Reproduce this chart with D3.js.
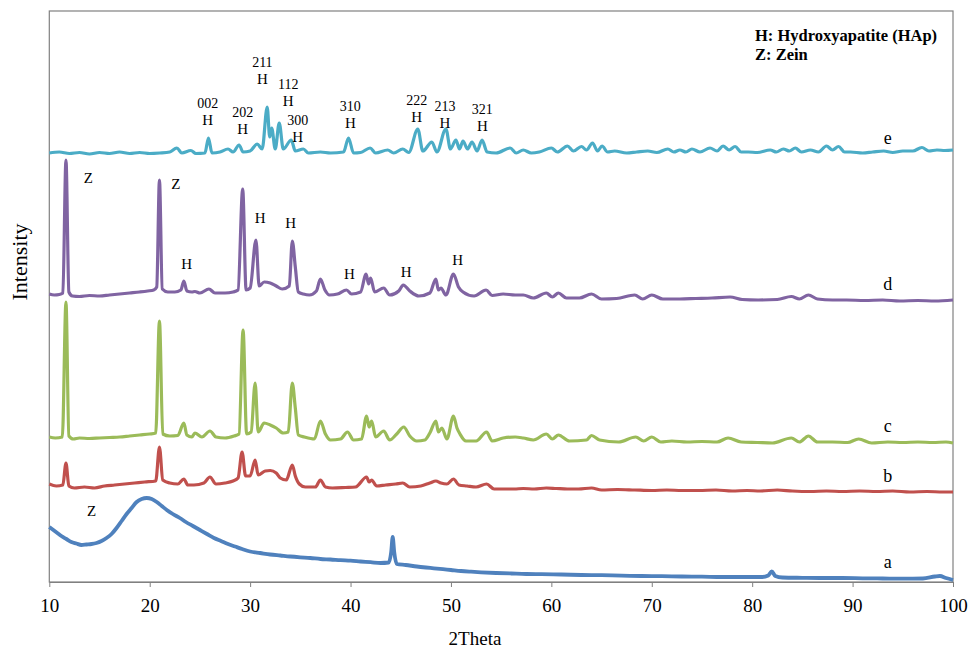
<!DOCTYPE html>
<html>
<head>
<meta charset="utf-8">
<script src="https://cdn.jsdelivr.net/npm/d3@7"></script>
<style>
  body { margin: 0; background: #fff; }
  svg { display: block; font-family: "Liberation Serif", "Times New Roman", serif; }
</style>
</head>
<body>
<div id="chart"></div>
<script>
// XRD patterns: [2theta, intensity (a.u., stacked)]
const patternA = [
  [10.0,55],[10.4,52],[10.8,49],[11.2,46],[11.7,43],[12.2,40],[12.7,38.5],[13.2,37],[13.7,37.5],
  [14.2,38],[14.7,39],[15.2,41],[15.7,44],[16.2,48],[16.7,54],[17.2,61],[17.7,68],[18.2,74],
  [18.7,80],[19.2,83],[19.7,84],[20.2,83],[20.7,80],[21.2,76],[21.7,72],[22.3,68],[23.0,64],
  [23.6,60],[24.3,56],[25.0,52],[25.7,48],[26.4,44],[27.1,41],[27.8,38],[28.5,35.5],[29.2,33],
  [30.0,30.5],[31.0,29],[32.0,27.5],[33.0,26.5],[34.0,25.5],[35.0,24.7],[36.0,24],[37.0,23],
  [38.0,22.5],[39.0,21.8],[40.0,21.3],[41.0,20.5],[42.0,19.8],[43.0,19],[43.8,19.5],[44.05,30],
  [44.2,45],[44.35,30],[44.6,18],[45.5,17],[46.6,15.5],[47.5,14.5],[48.3,13.7],[49.2,12.8],
  [50.0,12],[51.0,11],[52.0,10.3],[53.0,9.7],[54.5,9],[56.0,8.5],[57.5,8],[59.0,7.8],[61.0,7.5],
  [63.0,7],[65.0,6.8],[67.0,6.3],[69.0,6],[71.0,5.8],[73.0,5.5],[75.0,5.3],[77.0,5],[79.0,5],
  [81.0,5],[81.6,6.5],[81.95,10.5],[82.3,6],[83.0,4.5],[85.0,4.2],[87.0,4],[89.0,4],[91.0,3.7],
  [93.0,3.5],[95.0,3.3],[97.0,3.5],[98.2,5.5],[98.7,6],[99.3,4],[100,2]
];

const patternB = [
  [10.0,98],[10.7,96],[11.35,97],[11.66,119],[11.95,96],[12.5,94],[13.5,95],[14.5,94],[15.5,96],
  [16.5,97],[17.5,98],[18.5,99],[19.5,100],[20.6,101],[20.97,135],[21.3,102],[22.0,99],[22.8,98],
  [23.4,103],[23.8,97],[24.4,97],[25.4,99],[26.0,105],[26.6,98],[27.5,99],[28.3,101],[28.8,104],
  [29.2,130],[29.55,106],[30.0,106],[30.5,122],[30.8,107],[31.5,111],[32.0,111.5],[32.6,109],
  [33.0,104],[33.6,102],[34.2,117],[34.5,106],[34.9,98],[35.5,95],[36.5,95],[37.0,102],[37.5,95],
  [38.2,94],[39.5,94.5],[40.5,95],[41.6,105],[41.85,100],[42.1,102],[42.6,96],[43.5,97],[44.5,98],
  [45.2,99],[45.9,95],[47.0,96],[47.9,99],[48.5,101],[49.0,99],[49.6,98],[50.25,103],[50.8,97],
  [51.6,96],[52.5,95],[53.55,98],[54.3,93],[55.2,93],[56.3,93],[57.2,93.5],[58.3,93],[59.5,94],
  [60.5,93.5],[61.6,93],[62.7,93],[64.0,94],[65.0,92],[66.6,92.5],[68.3,92],[70.0,91.5],[71.5,92],
  [73.0,91.5],[74.7,91.5],[76.4,92],[78.0,91],[79.5,91.5],[80.8,91],[82.5,92],[84.0,91],[85.8,90.5],
  [87.4,91],[89.0,90.5],[90.7,91],[92.4,90.5],[94.0,91],[95.7,90],[97.4,90.5],[99.0,90],[100,90]
];

const patternC = [
  [10.0,145],[10.6,144],[11.3,145],[11.66,280],[11.95,146],[12.4,143],[13.0,144],[14.0,143.5],
  [15.0,144],[16.0,144.5],[17.0,145],[18.0,146],[19.0,147],[20.0,148],[20.6,149],[20.97,261],
  [21.3,148],[22.0,146],[22.8,146.5],[23.4,159],[23.7,147],[24.2,145],[24.5,149],[25.2,145],
  [26.0,151],[26.6,145],[27.5,144],[28.4,146],[28.9,148],[29.3,252],[29.65,148],[30.1,150],
  [30.5,199],[30.8,150],[31.4,159],[32.0,157],[32.6,154],[33.3,149],[33.8,150],[34.2,199],
  [34.5,174],[34.8,147],[35.4,145],[36.4,143],[37.0,161],[37.5,148],[38.0,142],[39.0,143],
  [39.7,150],[40.3,142],[41.1,143],[41.6,166],[41.85,155],[42.1,161],[42.5,145],[43.3,151],
  [43.9,142],[44.6,148],[45.3,155],[45.9,146],[46.6,141],[47.4,142],[47.9,149],[48.5,161],
  [48.75,150],[49.1,154],[49.6,143],[50.25,166],[50.6,154],[50.9,148],[51.5,141],[52.5,141],
  [53.55,150],[54.1,141],[55.2,144],[56.4,145],[57.2,144],[58.2,142],[59.5,148],[60.1,143],
  [60.7,147],[61.8,141],[63.5,142],[64.0,146.5],[64.8,142],[66.7,140],[68.4,145],[69.2,141],
  [70.0,145],[70.9,140],[72.0,141],[73.5,140],[75.0,140.5],[76.5,140],[77.6,144],[78.9,140],
  [80.5,139.5],[82.0,139],[83.9,144],[84.7,140],[85.6,146],[86.5,140],[88.0,140],[89.5,139.5],
  [90.6,143],[91.9,139],[93.5,140],[95.0,139.5],[96.5,140],[98.0,139.5],[99.3,140],[100,139]
];

const patternD = [
  [10.0,288],[10.5,287],[11.0,287.5],[11.35,289],[11.66,422],[11.95,290],[12.3,286],[13.0,285.5],
  [14.0,286.5],[15.0,286],[16.0,287],[17.0,288],[18.0,289],[19.0,290],[19.8,291],[20.4,292],
  [20.7,295],[20.97,402],[21.25,293],[21.8,290],[22.5,290],[23.1,292],[23.4,301],[23.7,291],
  [24.2,290],[24.5,290.5],[25.0,289],[25.9,293],[26.5,289],[27.5,289],[28.3,290],[28.8,292],
  [29.26,393],[29.6,292],[30.0,294],[30.58,342],[30.9,296],[31.4,300],[32.0,299],[32.6,296],
  [33.2,293],[33.9,296],[34.2,341],[34.5,315],[34.8,290],[35.3,288],[35.9,287],[36.6,291],
  [37.0,303],[37.45,292],[37.9,287],[38.7,288],[39.6,292],[40.1,288],[41.0,290],[41.55,308],
  [41.8,298],[42.0,304],[42.4,290],[43.3,294],[43.9,287],[44.8,291],[45.25,297],[45.9,291],
  [46.8,286],[47.9,289],[48.5,303],[48.75,292],[49.0,294],[49.5,287],[50.25,308],[50.75,295],
  [51.2,290],[52.3,286],[53.5,292],[54.1,286.5],[55.2,288],[56.4,287],[57.2,287],[58.2,284],
  [59.5,289],[60.1,285],[60.7,289],[61.5,284],[62.8,284],[64.0,288],[65.0,283],[66.5,283.5],
  [68.3,287],[69.1,283],[70.0,287],[71.1,283],[72.8,283],[74.4,283.5],[76.0,284],[77.8,285],
  [79.0,282.5],[80.6,282],[82.5,282.5],[83.9,285.5],[84.7,283],[85.6,287],[86.5,283],[88.0,282],
  [89.4,282],[91.2,281.5],[93.0,282],[94.7,281],[96.5,281.5],[98.2,281],[100,282]
];

const patternE = [
  [10.0,429],[11.0,430],[12.0,428.5],[13.0,429.5],[14.0,428],[15.0,429.5],[16.0,428.5],[17.0,430],
  [18.0,428.5],[19.0,429.5],[20.0,428.5],[21.0,429],[22.0,430],[22.7,434],[23.2,429],[24.1,431.5],
  [24.6,428.5],[25.5,429],[25.85,444],[26.2,429],[27.0,430],[27.8,433],[28.3,430],[28.9,437],
  [29.3,430],[30.0,431],[30.7,438],[31.2,433],[31.7,475],[31.95,445],[32.15,454],[32.5,433],
  [32.9,459],[33.3,433],[34.1,442],[34.5,431],[35.3,433],[35.8,429],[37.0,430],[38.0,429],
  [39.3,430],[39.8,444],[40.3,429],[41.0,429.5],[41.95,434],[42.5,429],[43.7,432],[44.3,429],
  [45.2,433],[45.8,429.5],[46.7,453],[47.2,431],[48.1,440],[48.6,430],[49.5,453],[49.95,433],
  [50.5,442],[50.85,433],[51.2,441],[51.65,433],[52.1,440],[52.6,431],[53.1,442],[53.6,430],
  [54.5,429],[55.9,434],[56.5,429],[57.2,432],[58.0,429],[58.8,430],[60.0,434],[60.6,430],
  [61.6,436],[62.2,431],[63.0,435.5],[63.5,432],[64.1,439],[64.6,431],[65.05,436],[65.6,430],
  [66.3,431],[67.5,429],[68.5,430],[69.6,431],[70.5,429.5],[71.6,433],[72.2,430],[72.8,432],
  [73.4,430],[74.0,433],[74.8,430],[75.8,434],[76.5,431],[77.1,436],[77.7,432],[78.3,435.5],
  [78.9,430],[79.6,430],[80.5,429.5],[81.8,432],[82.4,430],[83.1,433],[83.7,431],[84.3,434],
  [84.9,430],[85.8,432],[86.6,430],[87.4,436],[88.0,432],[88.6,435.5],[89.2,430],[89.8,430],
  [91.0,429],[92.0,430],[93.1,431],[94.0,429.5],[95.0,431],[96.0,431],[96.9,434.5],[97.6,431],
  [98.4,432],[99.2,431.5],[100,432]
];

const sampleNames = ["a", "b", "c", "d", "e"];
const sampleColors = ["#4f81bd", "#c0504d", "#9bbb59", "#8064a2", "#4bacc6"];
const sampleLabelTheta = 93.5;
const sampleLabelLevel = [14, 100, 150, 292, 438];

// (hkl) indexing of HAp on pattern e
const hklText  = ["002", "202", "211", "112", "300", "310", "222", "213", "321"];
const hklTheta = [25.78, 29.26, 31.22, 33.8, 34.74, 39.98, 46.59, 49.41, 53.13];
const hklLevel = [457, 448, 498, 476, 440.5, 454, 460.5, 454, 451];

// phase marks on patterns d and a
const phaseText  = ["Z", "Z", "H", "H", "H", "H", "H", "H", "Z"];
const phaseTheta = [13.88, 22.59, 23.69, 30.99, 34.04, 39.88, 45.53, 50.68, 14.22];
const phaseLevel = [399, 393, 313, 359, 354, 303, 305, 317, 66];

const xTicks = [10, 20, 30, 40, 50, 60, 70, 80, 90, 100];

const width = 968, height = 648;
const margin = {top: 11, right: 15, bottom: 66, left: 49.3};

const svg = d3.select("#chart")
  .append("svg")
    .attr("width", width)
    .attr("height", height);

const x = d3.scaleLinear()
  .domain([10, 100])
  .range([margin.left, width - margin.right]);
const y = d3.scaleLinear()
  .domain([0, 571])
  .range([height - margin.bottom, margin.top]);

// plot frame
svg.append("rect")
  .attr("x", x(10))
  .attr("y", y(571))
  .attr("width", x(100) - x(10))
  .attr("height", y(0) - y(571))
  .attr("fill", "none")
  .attr("stroke", "#808080")
  .attr("stroke-width", 1.2);

const xAxis = svg.append("g")
  .attr("transform", `translate(0,${y(0)})`)
  .call(d3.axisBottom(x).tickValues(xTicks).tickSize(5).tickSizeOuter(0).tickPadding(12));
xAxis.select(".domain").attr("stroke", "#808080").attr("stroke-width", 1.2);
xAxis.selectAll(".tick line").attr("stroke", "#808080");
xAxis.selectAll("text")
  .attr("fill", "#000")
  .style("font-family", "'Liberation Serif', 'Times New Roman', serif")
  .style("font-size", "19px");

svg.append("text")
  .attr("x", 475)
  .attr("y", 645)
  .attr("text-anchor", "middle")
  .style("font-size", "19px")
  .text("2Theta");

svg.append("text")
  .attr("transform", "translate(27,262) rotate(-90)")
  .attr("text-anchor", "middle")
  .style("font-size", "22px")
  .text("Intensity");

const line = d3.line()
  .x(d => x(d[0]))
  .y(d => y(d[1]))
  .curve(d3.curveMonotoneX);

const patterns = [patternA, patternB, patternC, patternD, patternE];
svg.append("g")
  .selectAll("path")
  .data(patterns)
  .enter()
  .append("path")
    .attr("d", line)
    .attr("fill", "none")
    .attr("stroke", (d, i) => sampleColors[i])
    .attr("stroke-width", (d, i) => i === 0 ? 3.8 : 3.2)
    .attr("stroke-linejoin", "round");

svg.append("g")
  .selectAll("text")
  .data(sampleNames)
  .enter()
  .append("text")
    .attr("x", x(sampleLabelTheta))
    .attr("y", (d, i) => y(sampleLabelLevel[i]))
    .attr("text-anchor", "middle")
    .style("font-size", "18px")
    .text(d => d);

const hkl = svg.append("g")
  .selectAll("g")
  .data(hklText)
  .enter()
  .append("g");
hkl.append("text")
  .attr("x", (d, i) => x(hklTheta[i]))
  .attr("y", (d, i) => y(hklLevel[i]) - 16.7)
  .attr("text-anchor", "middle")
  .style("font-size", "14px")
  .text(d => d);
hkl.append("text")
  .attr("x", (d, i) => x(hklTheta[i]))
  .attr("y", (d, i) => y(hklLevel[i]))
  .attr("text-anchor", "middle")
  .style("font-size", "15px")
  .text("H");

svg.append("g")
  .selectAll("text")
  .data(phaseText)
  .enter()
  .append("text")
    .attr("x", (d, i) => x(phaseTheta[i]))
    .attr("y", (d, i) => y(phaseLevel[i]))
    .attr("text-anchor", "middle")
    .style("font-size", "15px")
    .text(d => d);

// key
const key = svg.append("g")
  .style("font-weight", "bold")
  .style("font-size", "16.5px");
key.append("text").attr("x", 755).attr("y", 40.5).text("H: Hydroxyapatite (HAp)");
key.append("text").attr("x", 755).attr("y", 60).text("Z: Zein");
</script>
</body>
</html>
